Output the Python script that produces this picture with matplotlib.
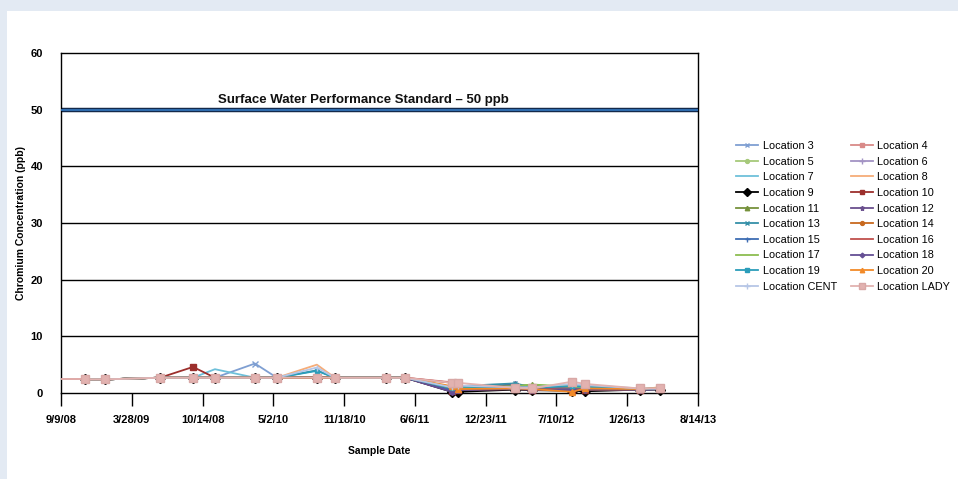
import numpy as np
import matplotlib
matplotlib.use("Agg")
import matplotlib.pyplot as plt

FONT = ['Liberation Sans Narrow', 'Liberation Sans', 'DejaVu Sans']
plt.rcParams['font.family'] = FONT

# Sample dates as days since 9/9/08
sample_days = [68, 124, 280, 373, 435, 548, 610, 723, 774, 918, 972,
               1105, 1122, 1283, 1331, 1444, 1481, 1636, 1693]

tick_days = [0, 200, 400, 600, 800, 1000, 1200, 1400, 1600, 1800]
tick_labels = ['9/9/08', '3/28/09', '10/14/08', '5/2/10', '11/18/10',
               '6/6/11', '12/23/11', '7/10/12', '1/26/13', '8/14/13']

y_ticks = [0, 10, 20, 30, 40, 50, 60]
standard_value = 50
standard_label = 'Surface Water Performance Standard – 50 ppb'

loc3 = [2.4, 2.4, 2.7, 2.7, 2.7, 5.2, 2.7, 2.7, 2.7, 2.7, 2.7, 0.9, 0.7, 0.8, 0.6, 1.0, 0.9, 0.6, 0.7]
loc4 = [2.4, 2.4, 2.7, 2.7, 2.7, 2.7, 2.7, 2.7, 2.7, 2.7, 2.7, 1.9, 1.2, 0.9, 0.8, 1.2, 1.0, 0.7, 0.8]
loc5 = [2.4, 2.4, 2.7, 2.7, 2.7, 2.7, 2.7, 2.7, 2.7, 2.7, 2.7, 1.0, 0.8, 0.9, 1.0, 0.9, 0.8, 0.7, 0.8]
loc6 = [2.4, 2.4, 2.7, 2.7, 2.7, 2.7, 2.7, 2.7, 2.7, 2.7, 2.7, 0.6, 0.6, 0.8, 0.7, 0.8, 0.7, 0.6, 0.7]
loc7 = [2.4, 2.4, 2.7, 2.7, 4.2, 2.7, 2.7, 2.7, 2.7, 2.7, 2.7, 0.8, 1.1, 1.0, 0.9, 1.4, 1.2, 0.7, 0.8]
loc8 = [2.4, 2.4, 2.7, 2.7, 2.7, 2.7, 2.7, 5.0, 2.7, 2.7, 2.7, 0.9, 0.9, 0.8, 0.8, 0.7, 0.9, 0.7, 0.9]
loc9 = [2.4, 2.4, 2.7, 2.7, 2.7, 2.7, 2.7, 2.7, 2.7, 2.7, 2.7, 0.2, 0.2, 0.6, 0.5, 0.4, 0.3, 0.6, 0.6]
loc10 = [2.4, 2.4, 2.7, 4.6, 2.7, 2.7, 2.7, 2.7, 2.7, 2.7, 2.7, 0.3, 0.5, 0.7, 0.6, 0.6, 0.6, 0.6, 0.7]
loc11 = [2.4, 2.4, 2.7, 2.7, 2.7, 2.7, 2.7, 2.7, 2.7, 2.7, 2.7, 0.7, 0.9, 1.3, 1.4, 1.0, 1.2, 0.7, 0.8]
loc12 = [2.4, 2.4, 2.7, 2.7, 2.7, 2.7, 2.7, 2.7, 2.7, 2.7, 2.7, 0.4, 0.6, 1.6, 0.6, 0.6, 0.7, 0.6, 0.7]
loc13 = [2.4, 2.4, 2.7, 2.7, 2.7, 2.7, 2.7, 4.0, 2.7, 2.7, 2.7, 0.8, 1.2, 1.7, 1.0, 1.1, 1.0, 0.7, 0.8]
loc14 = [2.4, 2.4, 2.7, 2.7, 2.7, 2.7, 2.7, 2.7, 2.7, 2.7, 2.7, 0.6, 0.7, 0.8, 0.7, 0.5, 0.6, 0.6, 0.8]
loc15 = [2.4, 2.4, 2.7, 2.7, 2.7, 2.7, 2.7, 2.7, 2.7, 2.7, 2.7, 0.5, 0.6, 0.8, 0.7, 0.8, 0.9, 0.6, 0.7]
loc16 = [2.4, 2.4, 2.7, 2.7, 2.7, 2.7, 2.7, 2.7, 2.7, 2.7, 2.7, 1.8, 1.0, 0.9, 0.8, 1.0, 0.9, 0.7, 0.8]
loc17 = [2.4, 2.4, 2.7, 2.7, 2.7, 2.7, 2.7, 2.7, 2.7, 2.7, 2.7, 0.9, 1.0, 1.2, 1.5, 1.1, 1.0, 0.7, 0.8]
loc18 = [2.4, 2.4, 2.7, 2.7, 2.7, 2.7, 2.7, 2.7, 2.7, 2.7, 2.7, 0.2, 0.5, 0.7, 0.6, 0.5, 0.6, 0.6, 0.7]
loc19 = [2.4, 2.4, 2.7, 2.7, 2.7, 2.7, 2.7, 3.9, 2.7, 2.7, 2.7, 0.9, 1.1, 1.0, 0.9, 1.2, 1.1, 0.7, 0.8]
loc20 = [2.4, 2.4, 2.7, 2.7, 2.7, 2.7, 2.7, 2.7, 2.7, 2.7, 2.7, 1.2, 0.7, 0.8, 0.7, 0.2, 0.8, 0.7, 1.0]
locCENT = [2.4, 2.4, 2.7, 2.7, 2.7, 2.7, 2.7, 4.5, 2.7, 2.7, 2.7, 1.0, 1.3, 1.0, 1.0, 1.6, 1.4, 0.8, 0.8]
locLADY = [2.4, 2.4, 2.7, 2.7, 2.7, 2.7, 2.7, 2.7, 2.7, 2.7, 2.7, 1.8, 1.8, 0.9, 0.8, 2.0, 1.6, 0.8, 0.8]

# early unmarked start segment (near 9/9/08)
start_day = [3]
start_val = [2.4]

series = [
    ('Location 3', loc3, '#7f9fd2', 'x', 4),
    ('Location 4', loc4, '#d98a88', 's', 3.5),
    ('Location 5', loc5, '#a6c97a', 'o', 3.5),
    ('Location 6', loc6, '#a393c4', '+', 5),
    ('Location 7', loc7, '#6ec0da', None, 0),
    ('Location 8', loc8, '#f6ac78', None, 0),
    ('Location 9', loc9, '#000000', 'D', 5.6),
    ('Location 10', loc10, '#9c2f2c', 's', 4),
    ('Location 11', loc11, '#76923c', '^', 4),
    ('Location 12', loc12, '#6a4f8e', '*', 4.5),
    ('Location 13', loc13, '#3590a8', 'x', 3.5),
    ('Location 14', loc14, '#c8691f', 'o', 3.5),
    ('Location 15', loc15, '#3e6db3', '+', 4.5),
    ('Location 16', loc16, '#c0504d', None, 0),
    ('Location 17', loc17, '#8cbd50', None, 0),
    ('Location 18', loc18, '#654f94', 'D', 3),
    ('Location 19', loc19, '#2b9dba', 's', 3.5),
    ('Location 20', loc20, '#f28a28', '^', 4),
    ('Location CENT', locCENT, '#b6c6e6', '+', 5),
    ('Location LADY', locLADY, '#e2b2b0', 's', 5.8),
]

fig = plt.figure(figsize=(9.58, 4.79), dpi=100)
fig.patch.set_facecolor('#e3eaf3')
fig.add_artist(plt.Rectangle((7 / 958, 0), 1, 1 - 11 / 479, transform=fig.transFigure,
                             facecolor='white', edgecolor='none', zorder=0))

ax = fig.add_axes([61 / 958, 1 - 393 / 479, (698 - 61) / 958, (393 - 53) / 479])
ax.set_facecolor('white')

for yv in [10, 20, 30, 40]:
    ax.axhline(yv, color='black', lw=1.0, zorder=1)
ax.axhline(standard_value, color='#13294b', lw=3.2, zorder=2)
ax.axhline(standard_value, color='#2f6db0', lw=1.4, zorder=3)
ax.text(np.mean([tick_days[0], tick_days[-1]]) - 45, 50.6, standard_label, ha='center', va='bottom',
        fontsize=9.5, fontweight='bold', color='#111111', zorder=4)

handles = {}
for i, (name, vals, col, mk, ms) in enumerate(series):
    if name in ('Location 16', 'Location LADY'):
        ax.plot(start_day + sample_days[:1], start_val + vals[:1], color=col, lw=1.3, zorder=5 + i * 0.1)
    mec = col
    if name == 'Location LADY':
        mec = '#d8a8a6'
    h, = ax.plot(sample_days, vals, color=col, lw=1.3, marker=mk, markersize=ms,
                 markerfacecolor=col, markeredgecolor=mec, markeredgewidth=1.0,
                 label=name, zorder=5 + i * 0.1, clip_on=False)
    handles[name] = h

ax.set_xlim(tick_days[0], tick_days[-1])
ax.set_ylim(0, 60)
ax.set_xticks(tick_days)
ax.set_xticklabels(tick_labels)
ax.set_yticks(y_ticks)
ax.set_yticklabels([str(v) for v in y_ticks])
ax.tick_params(axis='x', direction='out', length=9, width=1.0, pad=7, labelsize=8)
ax.tick_params(axis='y', length=0, pad=13, labelsize=8)
for lab in ax.get_xticklabels() + ax.get_yticklabels():
    lab.set_fontweight('bold')
for sp in ax.spines.values():
    sp.set_color('black')
    sp.set_linewidth(1.0)

ax.set_xlabel('Sample Date', fontsize=7.5, fontweight='bold', labelpad=15)
ax.set_ylabel('Chromium Concentration (ppb)', fontsize=7.5, fontweight='bold', labelpad=3)

names = [s[0] for s in series]
order = names[0::2] + names[1::2]
fig.legend([handles[n] for n in order], order, loc='upper left',
           bbox_to_anchor=(736 / 958, 1 - 141 / 479), ncol=2, frameon=False,
           fontsize=7.8, handlelength=2.0, handletextpad=0.45, columnspacing=1.3,
           labelspacing=0.52, borderaxespad=0, borderpad=0, markerscale=0.8)

fig.savefig('out.png', dpi=100, facecolor=fig.get_facecolor())
